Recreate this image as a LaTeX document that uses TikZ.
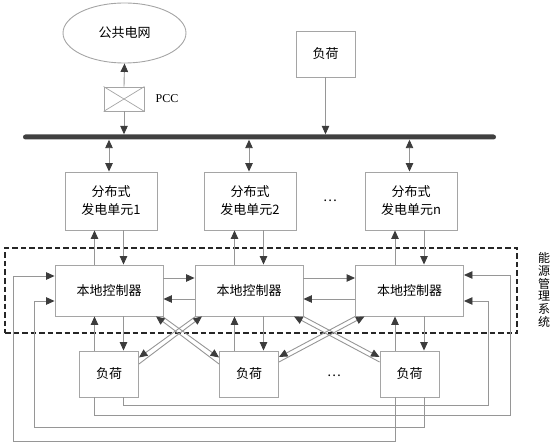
\documentclass[tikz,border=0pt]{standalone}
\usepackage{fontspec}
\setmainfont{Liberation Serif}
\newfontfamily\cjk{Noto Sans CJK SC}
\usetikzlibrary{arrows.meta,shapes.geometric,calc}
\definecolor{linec}{RGB}{150,150,150}
\definecolor{boxc}{RGB}{165,165,165}
\definecolor{headc}{RGB}{60,60,60}
\definecolor{busc}{RGB}{64,64,64}
\tikzset{
  tip/.tip={Triangle[length=8.5pt,width=7.5pt,color=headc]},
  arr/.style={draw=linec, line width=0.9pt, -tip},
  darr/.style={draw=linec, line width=0.9pt, tip-tip},
  box/.style={draw=boxc, fill=white, line width=0.9pt, inner sep=0pt,
    font=\cjk\fontsize{13}{18}\selectfont, align=center},
  loadbox/.style={box, minimum width=59pt, minimum height=46pt},
  dgbox/.style={box, minimum width=92pt, minimum height=58pt},
  ctrlbox/.style={box, minimum width=108pt, minimum height=51pt},
  emsbox/.style={draw=black!85, line width=2pt, dash pattern=on 5.5pt off 3pt,
    minimum width=512pt, minimum height=85pt, inner sep=0pt},
  plain/.style={inner sep=0pt, font=\cjk\fontsize{13}{18}\selectfont},
}
\begin{document}
\begin{tikzpicture}[x=1pt,y=-1pt]
\useasboundingbox (0,0) rectangle (553,443);

% energy management system border
\node[emsbox] (ems) at (261,290.5) {};
\node[inner sep=0pt, align=center, font=\cjk\fontsize{12}{12.7}\selectfont] (emslabel) at (544,290) {能\\源\\管\\理\\系\\统};

% top part
\node[ellipse, draw=boxc, line width=0.9pt, minimum width=123pt, minimum height=60pt, inner sep=0pt,
      font=\cjk\fontsize{13}{18}\selectfont] (grid) at (124.5,33) {公共电网};
\node[draw=boxc, line width=0.9pt, fill=white, minimum width=40pt, minimum height=24pt, inner sep=0pt] (pcc) at (124,99) {};
\draw[boxc, line width=0.7pt] (pcc.north west) -- (pcc.south east) (pcc.north east) -- (pcc.south west);
\node[inner sep=0pt, font=\fontsize{12}{14}\selectfont] (pcclabel) at (167,99) {PCC};
\node[fill=busc, minimum width=473pt, minimum height=5pt, inner sep=0pt, rounded corners=2.5pt] (bus) at (259.5,137) {};
\node[loadbox] (ltop) at (325.5,54) {负荷};

\draw[arr] (pcc.north) -- (grid.south);
\draw[arr] (pcc.south) -- (pcc.south |- bus.north);
\draw[arr] (ltop.south) -- (ltop.south |- bus.north);

% DG units
\node[dgbox] (dg1) at (111,201) {分布式\\发电单元1};
\node[dgbox] (dg2) at (250,201) {分布式\\发电单元2};
\node[dgbox] (dgn) at (411,201) {分布式\\发电单元n};
\node[plain] (dotsa) at (330,201) {…};

% controllers
\node[ctrlbox] (c1) at (109,290.5) {本地控制器};
\node[ctrlbox] (c2) at (249,290.5) {本地控制器};
\node[ctrlbox] (c3) at (409.5,290.5) {本地控制器};

% loads
\node[loadbox] (l1) at (109,374) {负荷};
\node[loadbox] (l2) at (249,374) {负荷};
\node[loadbox] (l3) at (409.5,374) {负荷};
\node[plain] (dotsb) at (334,376) {…};

% bus <-> DG
\foreach \c/\d in {c1/dg1, c2/dg2, c3/dgn}{
  \draw[darr] (\c.north |- bus.south) -- (\c.north |- \d.north);
  \draw[arr] ($(\c.north)+(-14.5,0)$) -- ($(\d.south -| \c.north)+(-14.5,0)$);
  \draw[arr] ($(\d.south -| \c.north)+(14.5,0)$) -- ($(\c.north)+(14.5,0)$);
}
% controller <-> load
\foreach \c/\l in {c1/l1, c2/l2, c3/l3}{
  \draw[arr] ($(\l.north -| \c.south)+(-14.5,0)$) -- ($(\c.south)+(-14.5,0)$);
  \draw[arr] ($(\c.south)+(14.5,0)$) -- ($(\l.north -| \c.south)+(14.5,0)$);
}
% controller <-> controller
\draw[arr] ($(c1.east)+(0,-12.5)$) -- ($(c2.west)+(0,-12.5)$);
\draw[arr] ($(c2.west)+(0,8.5)$) -- ($(c1.east)+(0,8.5)$);
\draw[arr] ($(c2.east)+(0,-12.5)$) -- ($(c3.west)+(0,-12.5)$);
\draw[arr] ($(c3.west)+(0,8.5)$) -- ($(c2.east)+(0,8.5)$);

% crossing pairs
\draw[arr] ($(c1.south east)+(-1,0)$) -- ($(l2.west)+(0,-16.5)$);
\draw[arr] ($(l2.west)+(0,-10)$) -- ($(c1.south east)+(-7.4,0)$);
\draw[arr] ($(c2.south west)+(1,0)$) -- ($(l1.east)+(0,-16.5)$);
\draw[arr] ($(l1.east)+(0,-10)$) -- ($(c2.south west)+(7.4,0)$);
\draw[arr] ($(c2.south east)+(0,0)$) -- ($(l3.west)+(0,-17)$);
\draw[arr] ($(l3.west)+(0,-12)$) -- ($(c2.south east)+(-9.4,0)$);
\draw[arr] ($(c3.south west)+(0,0)$) -- ($(l2.east)+(0,-17)$);
\draw[arr] ($(l2.east)+(0,-12)$) -- ($(c3.south west)+(9.4,0)$);

% feedback loops
\draw[arr] ($(l3.south)+(-14.5,0)$) -- ++(0,44) -| ($(c1.west)+(-41,-14.5)$) -- ($(c1.west)+(0,-14.5)$);
\draw[arr] ($(l3.south)+(15,0)$) -- ++(0,30) -| ($(c1.west)+(-20,10.5)$) -- ($(c1.west)+(0,10.5)$);
\draw[arr] ($(l1.south)+(-14.5,0)$) -- ++(0,18) -| ($(c3.east)+(46,-15.5)$) -- ($(c3.east)+(0,-15.5)$);
\draw[arr] ($(l1.south)+(14.5,0)$) -- ++(0,8) -| ($(c3.east)+(24,10.5)$) -- ($(c3.east)+(0,10.5)$);
\end{tikzpicture}
\end{document}
